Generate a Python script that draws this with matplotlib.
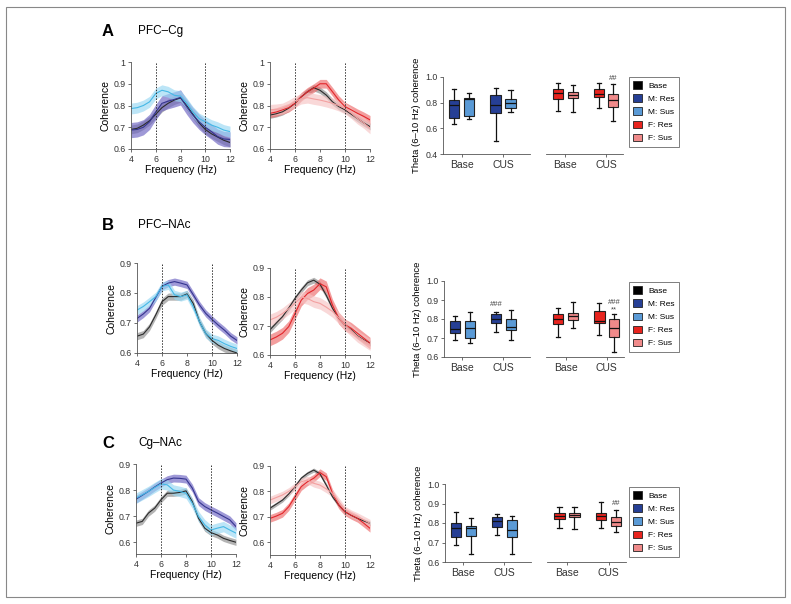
import matplotlib
matplotlib.use("Agg")
import matplotlib.pyplot as plt
from matplotlib.patches import Patch, Rectangle
import numpy as np

plt.rcParams['font.family'] = ['Liberation Sans', 'DejaVu Sans']

W, H = 791, 604

# ---------------- data ----------------
freq = [4, 4.5, 5, 5.5, 6, 6.5, 7, 7.5, 8, 8.5, 9, 9.5, 10, 10.5, 11, 11.5, 12]

# A: PFC-Cg
base_A1 = [0.69, 0.695, 0.71, 0.73, 0.76, 0.79, 0.81, 0.825, 0.835, 0.80, 0.76, 0.72, 0.69, 0.67, 0.655, 0.64, 0.63]
mres_A1 = [0.687, 0.69, 0.70, 0.725, 0.77, 0.81, 0.82, 0.828, 0.837, 0.794, 0.756, 0.725, 0.70, 0.68, 0.657, 0.646, 0.644]
msus_A1 = [0.786, 0.79, 0.80, 0.817, 0.855, 0.87, 0.863, 0.847, 0.843, 0.81, 0.77, 0.74, 0.725, 0.71, 0.70, 0.687, 0.68]
base_A2 = [0.756, 0.762, 0.771, 0.788, 0.81, 0.84, 0.863, 0.882, 0.87, 0.848, 0.817, 0.795, 0.78, 0.76, 0.74, 0.72, 0.703]
fres_A2 = [0.764, 0.77, 0.78, 0.79, 0.81, 0.84, 0.863, 0.88, 0.90, 0.90, 0.863, 0.825, 0.795, 0.78, 0.764, 0.75, 0.734]
fsus_A2 = [0.78, 0.782, 0.786, 0.80, 0.817, 0.832, 0.836, 0.83, 0.825, 0.818, 0.81, 0.80, 0.786, 0.765, 0.74, 0.72, 0.695]

# B: PFC-NAc
base_B1 = [0.656, 0.663, 0.687, 0.727, 0.771, 0.788, 0.788, 0.788, 0.797, 0.765, 0.704, 0.665, 0.642, 0.626, 0.615, 0.607, 0.60]
mres_B1 = [0.715, 0.73, 0.749, 0.785, 0.822, 0.833, 0.838, 0.833, 0.827, 0.794, 0.76, 0.732, 0.712, 0.693, 0.676, 0.656, 0.642]
msus_B1 = [0.743, 0.755, 0.771, 0.788, 0.822, 0.827, 0.794, 0.788, 0.794, 0.754, 0.704, 0.665, 0.648, 0.642, 0.631, 0.622, 0.615]
base_B2 = [0.687, 0.71, 0.732, 0.762, 0.795, 0.824, 0.849, 0.858, 0.844, 0.806, 0.761, 0.727, 0.704, 0.687, 0.666, 0.652, 0.641]
fres_B2 = [0.652, 0.662, 0.675, 0.698, 0.743, 0.789, 0.812, 0.824, 0.846, 0.835, 0.772, 0.727, 0.704, 0.692, 0.675, 0.658, 0.641]
fsus_B2 = [0.721, 0.73, 0.743, 0.76, 0.778, 0.80, 0.795, 0.784, 0.778, 0.765, 0.75, 0.728, 0.704, 0.684, 0.664, 0.65, 0.636]

# C: Cg-NAc
base_C1 = [0.673, 0.68, 0.712, 0.731, 0.763, 0.788, 0.788, 0.791, 0.797, 0.756, 0.692, 0.654, 0.637, 0.628, 0.615, 0.607, 0.60]
mres_C1 = [0.765, 0.78, 0.795, 0.812, 0.827, 0.84, 0.846, 0.845, 0.842, 0.808, 0.756, 0.737, 0.724, 0.712, 0.699, 0.686, 0.66]
msus_C1 = [0.769, 0.782, 0.795, 0.81, 0.824, 0.82, 0.80, 0.795, 0.788, 0.75, 0.699, 0.667, 0.647, 0.654, 0.66, 0.647, 0.635]
base_C2 = [0.734, 0.75, 0.766, 0.79, 0.819, 0.852, 0.871, 0.884, 0.869, 0.825, 0.779, 0.747, 0.72, 0.706, 0.694, 0.684, 0.675]
fres_C2 = [0.694, 0.703, 0.714, 0.74, 0.779, 0.819, 0.838, 0.852, 0.874, 0.858, 0.793, 0.747, 0.72, 0.706, 0.694, 0.675, 0.655]
fsus_C2 = [0.766, 0.776, 0.786, 0.80, 0.819, 0.838, 0.845, 0.832, 0.825, 0.81, 0.793, 0.76, 0.727, 0.712, 0.701, 0.688, 0.675]

# shaded band half-widths (base, res, sus)
band_A1 = [0.02, 0.035, 0.025]
band_A2 = [0.015, 0.02, 0.025]
band_B1 = [0.012, 0.012, 0.015]
band_B2 = [0.01, 0.02, 0.02]
band_C1 = [0.012, 0.015, 0.02]
band_C2 = [0.008, 0.015, 0.015]

# box stats: (whislo, q1, med, q3, whishi), order Res-Base, Sus-Base, Res-CUS, Sus-CUS
male_box_A = [(0.632, 0.678, 0.78, 0.82, 0.91), (0.67, 0.696, 0.825, 0.84, 0.879),
              (0.505, 0.72, 0.78, 0.858, 0.918), (0.724, 0.755, 0.80, 0.832, 0.897)]
female_box_A = [(0.735, 0.825, 0.876, 0.91, 0.956), (0.724, 0.838, 0.863, 0.884, 0.94),
                (0.755, 0.845, 0.871, 0.91, 0.956), (0.66, 0.763, 0.82, 0.866, 0.948)]
male_box_B = [(0.69, 0.726, 0.747, 0.787, 0.818), (0.673, 0.70, 0.752, 0.79, 0.836),
              (0.734, 0.778, 0.80, 0.827, 0.839), (0.687, 0.74, 0.757, 0.80, 0.848)]
female_box_B = [(0.705, 0.775, 0.80, 0.827, 0.857), (0.752, 0.796, 0.817, 0.834, 0.892),
                (0.714, 0.778, 0.792, 0.843, 0.886), (0.624, 0.703, 0.752, 0.80, 0.827)]
male_box_C = [(0.686, 0.726, 0.772, 0.802, 0.855), (0.64, 0.733, 0.772, 0.786, 0.824),
              (0.738, 0.778, 0.81, 0.833, 0.847), (0.643, 0.729, 0.764, 0.816, 0.836)]
female_box_C = [(0.772, 0.821, 0.836, 0.853, 0.884), (0.767, 0.829, 0.841, 0.853, 0.884),
                (0.772, 0.816, 0.836, 0.853, 0.91), (0.755, 0.784, 0.807, 0.833, 0.867)]

group_labels = ["Base", "CUS"]
legend_labels = ["Base", "M: Res", "M: Sus", "F: Res", "F: Sus"]
titles = ["PFC\u2013Cg", "PFC\u2013NAc", "Cg\u2013NAc"]

# ---------------- styles ----------------
LINE_COL = {"base": "#2b2b2b", "mres": "#35358f", "msus": "#45b8e6", "fres": "#e3262b", "fsus": "#f3a0a0"}
BAND_COL = {"base": "#8c8c8c", "mres": "#6c63c2", "msus": "#98d8f3", "fres": "#ee6b6b", "fsus": "#f6c4c4"}
BOX_COL = ["#000000", "#263f95", "#5a9ad6", "#e8241e", "#f08a8a"]

fig = plt.figure(figsize=(W / 100, H / 100), dpi=100)


def px_axes(x0, y0, x1, y1):
    return fig.add_axes([x0 / W, 1 - y1 / H, (x1 - x0) / W, (y1 - y0) / H])


def style_small(ax):
    for s in ["top", "right"]:
        ax.spines[s].set_visible(False)
    for s in ["left", "bottom"]:
        ax.spines[s].set_linewidth(0.6)
        ax.spines[s].set_color("#555555")
    ax.tick_params(labelsize=6.3, width=0.5, length=2, colors="#333333", pad=2)


def line_panel(ax, curves, keys, bands, ylim, yticks, yticklabels):
    for y, k, b in zip(curves, keys, bands):
        y = np.array(y)
        ax.fill_between(freq, y - b, y + b, color=BAND_COL[k], alpha=0.65, lw=0)
        ax.plot(freq, y, color=LINE_COL[k], lw=0.8)
    ax.axvline(6, color="#333333", ls=(0, (1.5, 1.5)), lw=0.7)
    ax.axvline(10, color="#333333", ls=(0, (1.5, 1.5)), lw=0.7)
    ax.set_xlim(4, 12)
    ax.set_ylim(*ylim)
    ax.set_xticks([4, 6, 8, 10, 12])
    ax.set_yticks(yticks)
    ax.set_yticklabels(yticklabels)
    ax.set_xlabel("Frequency (Hz)", fontsize=7.5, labelpad=1)
    ax.set_ylabel("Coherence", fontsize=7.5, labelpad=2)
    style_small(ax)


def box_panel(axL, axR, male, female, ylim, yticks, marks):
    off = 0.18
    pos = [1 - off, 1 + off, 2 - off, 2 + off]
    for ax, stats, cols in [(axL, male, [BOX_COL[1], BOX_COL[2]] * 2),
                            (axR, female, [BOX_COL[3], BOX_COL[4]] * 2)]:
        st = [dict(whislo=s[0], q1=s[1], med=s[2], q3=s[3], whishi=s[4]) for s in stats]
        bp = ax.bxp(st, positions=pos, widths=0.25, showfliers=False, patch_artist=True,
                    boxprops=dict(lw=0.8, edgecolor="#222222"),
                    medianprops=dict(color="#111111", lw=0.9),
                    whiskerprops=dict(color="#111111", lw=0.9),
                    capprops=dict(color="#111111", lw=0.9), capwidths=0.1)
        for patch, c in zip(bp["boxes"], cols):
            patch.set_facecolor(c)
        ax.set_ylim(*ylim)
        ax.set_xticks([1, 2])
        ax.set_xticklabels(group_labels)
        style_small(ax)
        ax.tick_params(axis="x", labelsize=7.5)
    axL.set_xlim(0.55, 2.65)
    axR.set_xlim(0.52, 2.42)
    axL.set_yticks(yticks)
    axL.set_yticklabels(["%.1f" % t for t in yticks])
    axL.set_ylabel("Theta (6\u201310 Hz) coherence", fontsize=6.8, labelpad=3)
    axR.spines["left"].set_visible(False)
    axR.set_yticks([])
    for side, i, y, txt in marks:
        ax = axL if side == "L" else axR
        ax.text(pos[i], y, txt, ha="center", va="center", fontsize=5.5, color="#444444")
    handles = [Patch(facecolor=c, edgecolor="#222222", lw=0.6) for c in BOX_COL]
    return handles


# ---------------- layout ----------------
rows = [
    dict(letter="A", ly=31, l1=(131, 62, 230, 149), l2=(270, 62, 370, 149),
         c1=[base_A1, mres_A1, msus_A1], c2=[base_A2, fres_A2, fsus_A2],
         b1=band_A1, b2=band_A2,
         yl1=(0.6, 1.0), yt1=[0.6, 0.7, 0.8, 0.9, 1.0], ytl1=["0.6", "0.7", "0.8", "0.9", "1"],
         yl2=(0.6, 1.0), yt2=[0.6, 0.7, 0.8, 0.9, 1.0], ytl2=["0.6", "0.7", "0.8", "0.9", "1"],
         bx=(443, 530, 546, 623, 77, 154), male=male_box_A, female=female_box_A,
         bylim=(0.4, 1.0), byt=[0.4, 0.6, 0.8, 1.0], marks=[("R", 3, 0.985, "##")],
         leg=(629, 77, 677, 144)),
    dict(letter="B", ly=225, l1=(137, 263, 237, 353), l2=(270, 268, 370, 355),
         c1=[base_B1, mres_B1, msus_B1], c2=[base_B2, fres_B2, fsus_B2],
         b1=band_B1, b2=band_B2,
         yl1=(0.6, 0.9), yt1=[0.6, 0.7, 0.8, 0.9], ytl1=["0.6", "0.7", "0.8", "0.9"],
         yl2=(0.6, 0.9), yt2=[0.6, 0.7, 0.8, 0.9], ytl2=["0.6", "0.7", "0.8", "0.9"],
         bx=(444, 530, 546, 624, 281, 357), male=male_box_B, female=female_box_B,
         bylim=(0.6, 1.0), byt=[0.6, 0.7, 0.8, 0.9, 1.0],
         marks=[("L", 2, 0.878, "###"), ("R", 3, 0.848, "**"), ("R", 3, 0.886, "###")],
         leg=(629, 282, 677, 348)),
    dict(letter="C", ly=443, l1=(136, 464, 236, 554), l2=(270, 466, 370, 555),
         c1=[base_C1, mres_C1, msus_C1], c2=[base_C2, fres_C2, fsus_C2],
         b1=band_C1, b2=band_C2,
         yl1=(0.555, 0.9), yt1=[0.6, 0.7, 0.8, 0.9], ytl1=["0.6", "0.7", "0.8", "0.9"],
         yl2=(0.55, 0.9), yt2=[0.6, 0.7, 0.8, 0.9], ytl2=["0.6", "0.7", "0.8", "0.9"],
         bx=(445, 531, 547, 626, 484, 562), male=male_box_C, female=female_box_C,
         bylim=(0.6, 1.0), byt=[0.6, 0.7, 0.8, 0.9, 1.0], marks=[("R", 3, 0.9, "##")],
         leg=(629, 487, 677, 552)),
]

for r, title in zip(rows, titles):
    fig.text(108 / W, 1 - r["ly"] / H, r["letter"], fontsize=12, fontweight="bold",
             ha="center", va="center")
    fig.text(138 / W, 1 - r["ly"] / H, title, fontsize=8.5, ha="left", va="center")

    ax1 = px_axes(*r["l1"])
    line_panel(ax1, r["c1"], ["base", "mres", "msus"], r["b1"], r["yl1"], r["yt1"], r["ytl1"])
    ax2 = px_axes(*r["l2"])
    line_panel(ax2, r["c2"], ["base", "fres", "fsus"], r["b2"], r["yl2"], r["yt2"], r["ytl2"])

    x0, x1, x2, x3, y0, y1 = r["bx"]
    axL = px_axes(x0, y0, x1, y1)
    axR = px_axes(x2, y0, x3, y1)
    handles = box_panel(axL, axR, r["male"], r["female"], r["bylim"], r["byt"], r["marks"])

    lx0, ly0, lx1, ly1 = r["leg"]
    fig.legend(handles, legend_labels, loc="upper left",
               bbox_to_anchor=(lx0 / W, 1 - ly0 / H), bbox_transform=fig.transFigure,
               fontsize=6, frameon=True, fancybox=False, edgecolor="#444444",
               handlelength=1.0, handleheight=1.0, handletextpad=0.8,
               labelspacing=0.55, borderpad=0.5, borderaxespad=0).get_frame().set_linewidth(0.6)

# outer frame
fig.patches.append(Rectangle((6 / W, 1 - 597 / H), 779 / W, 590 / H, transform=fig.transFigure,
                             fill=False, edgecolor="#888888", lw=0.8))

fig.savefig("out.png", dpi=100)
